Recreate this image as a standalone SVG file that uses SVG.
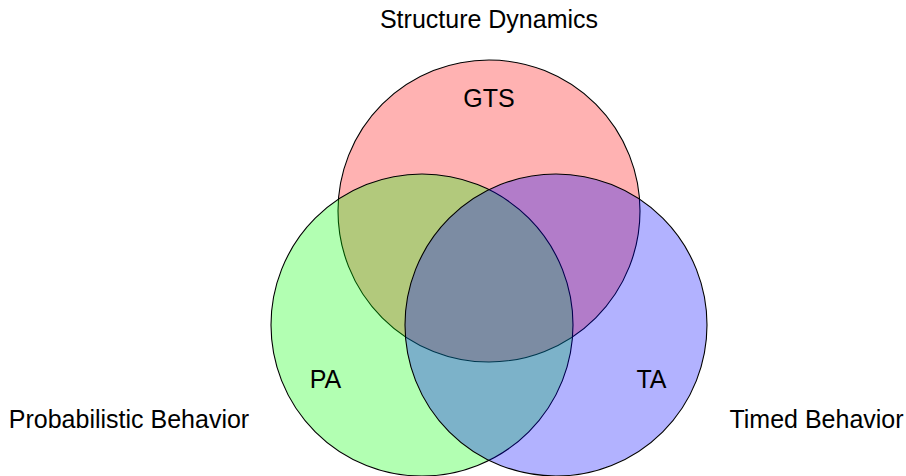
<svg xmlns="http://www.w3.org/2000/svg" width="906" height="476" viewBox="0 0 906 476">
  <style>
    .set { stroke: #000; stroke-width: 1.1; fill-opacity: 0.3; }
    .lbl { font-family: "Liberation Sans", Arial, sans-serif; font-size: 25px; fill: #000; text-anchor: middle; }
  </style>
  <rect width="906" height="476" fill="#fff"/>
  <g id="gts">
    <circle class="set" cx="489" cy="211" r="151" fill="#ff0000"/>
    <text class="lbl" x="489" y="107">GTS</text>
  </g>
  <g id="pa">
    <circle class="set" cx="422" cy="325" r="151" fill="#00ff00"/>
    <text class="lbl" x="325.5" y="388">PA</text>
  </g>
  <g id="ta">
    <circle class="set" cx="556" cy="325" r="151" fill="#0000ff"/>
    <text class="lbl" x="651.5" y="388">TA</text>
  </g>
  <g id="labels">
    <text class="lbl" x="489" y="28">Structure Dynamics</text>
    <text class="lbl" x="129" y="428">Probabilistic Behavior</text>
    <text class="lbl" x="816.5" y="428">Timed Behavior</text>
  </g>
  <g id="connectors"/>
</svg>
